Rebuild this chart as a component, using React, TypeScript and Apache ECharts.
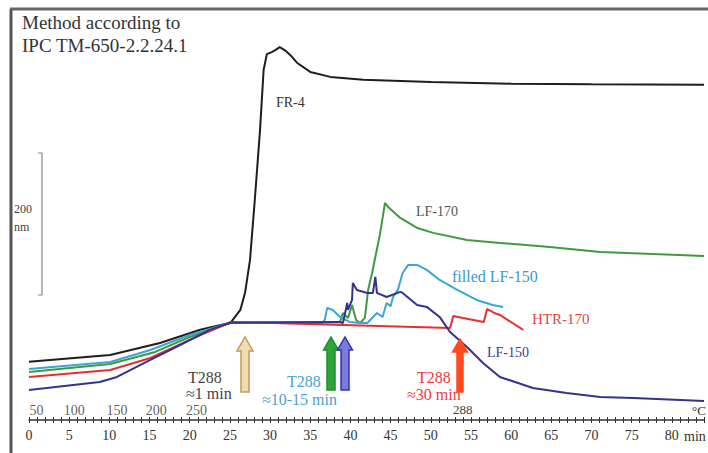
import React, { useEffect, useRef } from "react";
import * as echarts from "echarts";

// time (min) vs dimension change (nm)
const fr4: number[][] = [
  [0, 82], [10.1, 91.5], [16.3, 108.5], [21.3, 127], [25.1, 137], [26.3, 155], [26.9, 180],
  [27.5, 225], [28.1, 310], [28.75, 408], [29.2, 493], [29.6, 515], [30.2, 518], [30.7, 521],
  [31.2, 525], [31.9, 520], [32.5, 514], [33.35, 503], [35, 490], [37.5, 483], [41.6, 479],
  [50, 476], [60, 473.5], [70, 472.5], [84, 472],
];
const lf170: number[][] = [
  [0, 67.6], [10.1, 78.9], [15.7, 95.8], [20.0, 116.9], [25.1, 137], [38.7, 138], [39.07, 150.7],
  [39.7, 143.7], [40.2, 162], [40.7, 140.8], [41.2, 136.6], [41.8, 143.7], [42.2, 183], [42.7, 207],
  [43.7, 263], [44.3, 305.6], [44.7, 300], [46.2, 284.5], [48.3, 270.4], [50.3, 263.4], [54.5, 253.5],
  [58.6, 249.3], [64.8, 243.7], [71.1, 236.6], [84, 231],
];
const filledLf150: number[][] = [
  [0, 71.8], [10.1, 81.7], [15.1, 98.6], [20.0, 119.7], [25.1, 137], [36.5, 136.6], [36.8, 140.8],
  [37.1, 157.7], [37.8, 154.9], [38.7, 145], [39.9, 138], [41.2, 136.6], [42.1, 136.6], [43.3, 150.7],
  [44.0, 145], [44.5, 164.8], [45.0, 160], [45.3, 173.2], [45.9, 183.1], [46.5, 207], [47.2, 218.3],
  [48.3, 218.3], [49.5, 211.3], [51.1, 197.2], [53.3, 183.1], [55.7, 169], [57.7, 162], [59.0, 159.2],
];
const htr170: number[][] = [
  [0, 60.6], [10.1, 70.4], [15.1, 87.3], [20.0, 112.7], [25.1, 138], [52.4, 129.6], [52.8, 146.5],
  [54.0, 143.7], [56.6, 138], [57.0, 156.3], [57.9, 150.7], [58.6, 147.9], [61.5, 126.8],
];
const lf150: number[][] = [
  [0, 42.3], [8.8, 53.5], [10.95, 60.6], [15.1, 84.5], [18.8, 105.6], [22.5, 126.8], [25.1, 137],
  [38.7, 138], [39.07, 136.6], [39.6, 164.8], [39.7, 154.9], [40.2, 169], [40.3, 193], [40.8, 183.1],
  [42.1, 178.9], [42.8, 178.9], [43.1, 201.4], [43.3, 178.9], [44.5, 173.2], [46.2, 180.3],
  [46.5, 178.9], [48.3, 162], [49.5, 159.2], [51.1, 145.1], [52.4, 123.9], [54.5, 102.8],
  [56.5, 80.3], [58.6, 60.6], [62.7, 45.1], [66.9, 38], [71.1, 32.4], [75.2, 31], [84, 26.8],
];
// temperature tick labels (°C) placed at their times
const tempLabels = ["50", "100", "150", "200", "250"];
const tempTimes = [1.0, 5.7, 11.0, 15.9, 20.9];

const SERIF = "Liberation Serif";

function arrow(cx: number, tip: number, base: number, hw: number, sw: number, hh: number, fill: string, stroke: string) {
  return {
    type: "polygon",
    shape: {
      points: [
        [cx, tip], [cx + hw, tip + hh], [cx + sw, tip + hh], [cx + sw, base],
        [cx - sw, base], [cx - sw, tip + hh], [cx - hw, tip + hh],
      ],
    },
    style: { fill, stroke, lineWidth: 1.5 },
    z: 10,
  };
}

// x = left edge, y = vertical middle of the text
function txt(x: number, y: number, text: string, fill: string, size = 15) {
  return {
    type: "text",
    x,
    y: y - Math.round(size * 0.55),
    style: { text, fill, font: `${size}px "${SERIF}"` },
    z: 10,
  };
}

export default function App() {
  const ref = useRef<HTMLDivElement>(null);
  useEffect(() => {
    if (!ref.current) return;
    const chart = echarts.init(ref.current, undefined, { renderer: "svg" });
    const line = (name: string, data: number[][], color: string) => ({
      name,
      type: "line",
      data,
      showSymbol: false,
      smooth: false,
      lineStyle: { color, width: 2 },
      itemStyle: { color },
      z: 3,
    });
    chart.setOption({
      animation: false,
      backgroundColor: "#ffffff",
      grid: { left: 29, right: 4, top: 8, bottom: 33 },
      xAxis: [
        {
          type: "value",
          min: 0,
          max: 84,
          interval: 1,
          axisLine: { show: true, lineStyle: { color: "#333", width: 1.5 } },
          axisTick: { show: true, length: 3, lineStyle: { color: "#333" } },
          splitLine: { show: false },
          axisLabel: {
            margin: 8,
            color: "#333",
            fontFamily: SERIF,
            fontSize: 14,
            formatter: (v: number) => (v % 5 === 0 ? String(v) : ""),
          },
        },
        {
          type: "value",
          min: 0,
          max: 84,
          interval: 1,
          position: "bottom",
          axisLine: { show: false },
          axisTick: { show: true, inside: true, length: 3, lineStyle: { color: "#333" } },
          axisLabel: { show: false },
          splitLine: { show: false },
        },
      ],
      yAxis: { type: "value", min: 0, max: 580, show: false, splitLine: { show: false } },
      series: [
        line("FR-4", fr4, "#1e1e1e"),
        line("LF-170", lf170, "#3f9a3f"),
        line("filled LF-150", filledLf150, "#3aa6d6"),
        line("HTR-170", htr170, "#e53030"),
        line("LF-150", lf150, "#33338f"),
        {
          type: "scatter",
          data: tempTimes.map((t, i) => ({ value: [t, 12.7], name: tempLabels[i] })),
          symbolSize: 1,
          itemStyle: { color: "rgba(0,0,0,0)" },
          label: {
            show: true,
            position: [0, 0],
            align: "center",
            verticalAlign: "middle",
            formatter: (p: any) => p.name,
            color: "#333",
            fontFamily: SERIF,
            fontSize: 14,
          },
        },
      ],
      graphic: [
        { type: "line", shape: { x1: 11, y1: 9, x2: 11, y2: 453 }, style: { stroke: "#555", lineWidth: 3 } },
        { type: "line", shape: { x1: 10, y1: 9, x2: 708, y2: 9 }, style: { stroke: "#666", lineWidth: 3 } },
        { type: "polyline", shape: { points: [[38, 153], [42, 153], [42, 295], [38, 295]] }, style: { stroke: "#888", lineWidth: 1.2, fill: "none" } },
        txt(14, 210, "200", "#444", 12),
        txt(14, 228, "nm", "#444", 12),
        txt(22, 23, "Method according to", "#333", 19),
        txt(22, 46, "IPC TM-650-2.2.24.1", "#333", 19),
        txt(276, 103, "FR-4", "#333", 14),
        txt(416, 212, "LF-170", "#555", 14),
        txt(452, 277, "filled LF-150", "#3a98cc", 16),
        txt(532, 319, "HTR-170", "#e04848", 15),
        txt(487, 353, "LF-150", "#3b3b94", 14),
        txt(188, 378, "T288", "#444", 16),
        txt(186, 394, "≈1 min", "#444", 16),
        txt(287, 382, "T288", "#4a9fd0", 16),
        txt(262, 400, "≈10-15 min", "#4a9fd0", 16),
        txt(417, 378, "T288", "#f03a3a", 16),
        txt(407, 395, "≈30 min", "#f03a3a", 16),
        txt(453, 410, "288", "#444", 13),
        txt(692, 411, "°C", "#333", 13),
        txt(684, 437, "min", "#333", 14),
        arrow(245, 337, 392, 8, 4, 14, "#efdcb2", "#c39a5a"),
        arrow(331, 337, 390, 7.5, 4, 13, "#2da33c", "#1e8f2e"),
        arrow(345, 337, 390, 7.5, 4, 13, "#7b7bdc", "#3434aa"),
        arrow(460, 339, 392, 7.5, 3, 13, "#ff4a20", "#ff4a20"),
      ],
    });
    return () => chart.dispose();
  }, []);
  return <div ref={ref} style={{ position: "fixed", left: 0, top: 0, width: 708, height: 453, background: "#fff" }} />;
}
